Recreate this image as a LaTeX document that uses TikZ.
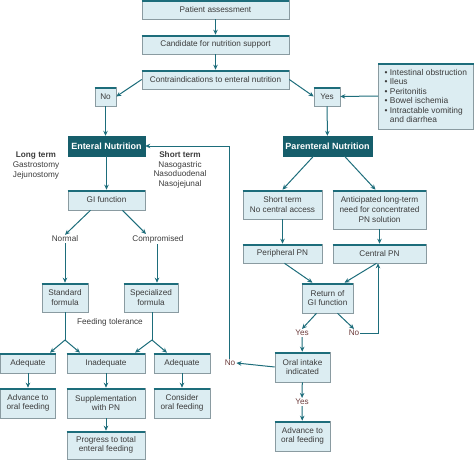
\documentclass[tikz,border=0pt]{standalone}
\usepackage{fontspec}
\setmainfont{Liberation Sans}
\usetikzlibrary{arrows.meta}
\definecolor{boxfill}{HTML}{DCEDF2}
\definecolor{boxline}{HTML}{8A9BA1}
\definecolor{teal1}{HTML}{1D6D7B}
\definecolor{dark1}{HTML}{165E6B}
\definecolor{txt}{HTML}{3C3C3C}
\definecolor{ansc}{HTML}{6E3E3E}

\begin{document}
\begin{tikzpicture}[x=1pt, y=-1pt,
  blk/.style={draw=boxline, fill=boxfill, line width=0.6pt, inner sep=1pt,
    align=center, text=txt, font=\fontsize{8.2}{9.6}\selectfont},
  topbar/.style={teal1, line width=2.2pt},
  hdr/.style={draw=dark1, fill=dark1, text=white, inner sep=1pt, align=center,
    font=\fontsize{9}{10}\selectfont\bfseries},
  lbl/.style={inner sep=1pt, align=center, text=txt, font=\fontsize{8.2}{9.6}\selectfont},
  ans/.style={inner sep=1pt, text=ansc, font=\fontsize{8.2}{9.6}\selectfont},
  arr/.style={teal1, line width=1pt, -{Stealth[length=5pt, width=4.5pt]}},
  ln/.style={teal1, line width=1pt}]
  \useasboundingbox (0,0) rectangle (474,460);

  \node[blk, minimum width=147pt, minimum height=19pt] (pa) at (215.5,9.5) {Patient assessment};
  \node[blk, minimum width=147pt, minimum height=19pt] (cand) at (215.5,44.5) {Candidate for nutrition support};
  \node[blk, minimum width=147pt, minimum height=19pt] (contra) at (215.5,79.5) {Contraindications to enteral nutrition};
  \node[blk, minimum width=21pt, minimum height=19pt] (no) at (105.5,96.5) {No};
  \node[blk, minimum width=26pt, minimum height=19pt] (yes) at (327,96.5) {Yes};
  \node[blk, minimum width=95pt, minimum height=66pt, align=left,
    font=\fontsize{8.4}{9.4}\selectfont] (list) at (425.8,96)
    {\textbullet\ Intestinal obstruction\\ \textbullet\ Ileus\\ \textbullet\ Peritonitis\\
     \textbullet\ Bowel ischemia\\ \textbullet\ Intractable vomiting\\ \phantom{\textbullet\ }and diarrhea};

  \node[hdr, minimum width=77pt, minimum height=20pt] (ent) at (106.5,146) {Enteral Nutrition};
  \node[hdr, minimum width=89pt, minimum height=20pt] (par) at (327.5,146) {Parenteral Nutrition};

  \node[lbl] (long) at (36,165.5) {\textbf{Long term}\\ Gastrostomy\\ Jejunostomy};
  \node[lbl] (short) at (180,170) {\textbf{Short term}\\ Nasogastric\\ Nasoduodenal\\ Nasojejunal};

  \node[blk, minimum width=77pt, minimum height=20pt] (gi) at (106.5,200) {GI function};
  \node[lbl] (normal) at (65,239) {Normal};
  \node[lbl] (comp) at (158,239) {Compromised};
  \node[blk, minimum width=46pt, minimum height=29pt] (std) at (65,297.5) {Standard\\ formula};
  \node[blk, minimum width=54pt, minimum height=29pt] (spec) at (151,297.5) {Specialized\\ formula};
  \node[lbl] (tol) at (110,322) {Feeding tolerance};
  \coordinate (f1) at (65,340);
  \coordinate (f2) at (152,340);

  \node[blk, minimum width=55pt, minimum height=20pt] (adq1) at (28,363) {Adequate};
  \node[blk, minimum width=78pt, minimum height=20pt] (inad) at (106,363) {Inadequate};
  \node[blk, minimum width=56pt, minimum height=20pt] (adq2) at (182,363) {Adequate};
  \node[blk, minimum width=55pt, minimum height=30pt] (adv1) at (28,403) {Advance to\\ oral feeding};
  \node[blk, minimum width=78pt, minimum height=30pt] (supp) at (106,403) {Supplementation\\ with PN};
  \node[blk, minimum width=56pt, minimum height=30pt] (cons) at (182,403) {Consider\\ oral feeding};
  \node[blk, minimum width=78pt, minimum height=28pt] (prog) at (106,445) {Progress to total\\ enteral feeding};

  \node[blk, minimum width=79pt, minimum height=29pt] (st) at (282.5,204.5) {Short term\\ No central access};
  \node[blk, minimum width=93pt, minimum height=39pt] (ant) at (379.5,209.5)
    {Anticipated long-term\\ need for concentrated\\ PN solution};
  \node[blk, minimum width=79pt, minimum height=19pt] (per) at (282.5,253.5) {Peripheral PN};
  \node[blk, minimum width=93pt, minimum height=19pt] (cen) at (379.5,253.5) {Central PN};
  \node[blk, minimum width=51pt, minimum height=30pt] (ret) at (327.5,298) {Return of\\ GI function};
  \node[ans] (yes2) at (302,333) {Yes};
  \node[ans] (no2) at (354,333) {No};
  \node[blk, minimum width=55pt, minimum height=30pt] (oral) at (302.5,367) {Oral intake\\ indicated};
  \node[ans] (yes3) at (302,402) {Yes};
  \node[blk, minimum width=55pt, minimum height=30pt] (adv2) at (302.5,436) {Advance to\\ oral feeding};
  \node[ans] (no3) at (230,363) {No};

  \foreach \n in {pa,cand,contra,no,yes,list,gi,std,spec,adq1,inad,adq2,adv1,supp,cons,prog,
      st,ant,per,cen,ret,oral,adv2}
    \draw[topbar] ([yshift=-1pt]\n.north west) -- ([yshift=-1pt]\n.north east);

  \draw[arr] (pa) -- (cand);
  \draw[arr] (cand) -- (contra);
  \draw[arr] (contra.west) -- (no.east);
  \draw[arr] (contra.east) -- (yes.west);
  \draw[arr] (list.west) -- (yes.east);
  \draw[arr] (no) -- (no |- ent.north);
  \draw[arr] (yes) -- (par);
  \draw[arr] (ent) -- (gi);
  \draw[arr] ([xshift=-16pt]gi.south) -- (normal.north);
  \draw[arr] ([xshift=16pt]gi.south) -- ([xshift=-12pt]comp.north);
  \draw[arr] (normal) -- (std);
  \draw[arr] ([xshift=-1pt]comp.south) -- ([xshift=-1pt]comp.south |- spec.north);
  \draw[ln] (std) -- (f1);
  \draw[arr] (f1) -- ([xshift=22pt]adq1.north);
  \draw[arr] (f1) -- ([xshift=-26pt]inad.north);
  \draw[ln] (f2 |- spec.south) -- (f2);
  \draw[arr] (f2) -- ([xshift=29pt]inad.north);
  \draw[arr] (f2) -- ([xshift=-15pt]adq2.north);
  \draw[arr] (adq1) -- (adv1);
  \draw[arr] (inad) -- (supp);
  \draw[arr] (adq2) -- (cons);
  \draw[arr] (supp) -- (prog);

  \draw[arr] ([xshift=-14pt]par.south) -- (st.north);
  \draw[arr] ([xshift=17pt]par.south) -- ([xshift=-4pt]ant.north);
  \draw[arr] (st) -- (per);
  \draw[arr] (ant) -- (cen);
  \draw[arr] ([xshift=2pt]per.south) -- ([xshift=-15pt]ret.north);
  \draw[arr] ([xshift=-3pt]cen.south) -- ([xshift=17pt]ret.north);
  \draw[arr] ([xshift=-11pt]ret.south) -- (yes2.north);
  \draw[arr] ([xshift=10pt]ret.south) -- (no2.north);
  \draw[arr] (no2.east) -| ([xshift=-1.5pt]cen.south);
  \draw[arr] (yes2) -- (oral);
  \draw[arr] (oral) -- (yes3);
  \draw[arr] (yes3) -- (adv2);
  \draw[arr] (oral.west) -- (no3.east);
  \draw[arr] ([xshift=-1pt]no3.north) |- (ent.east);
\end{tikzpicture}
\end{document}
